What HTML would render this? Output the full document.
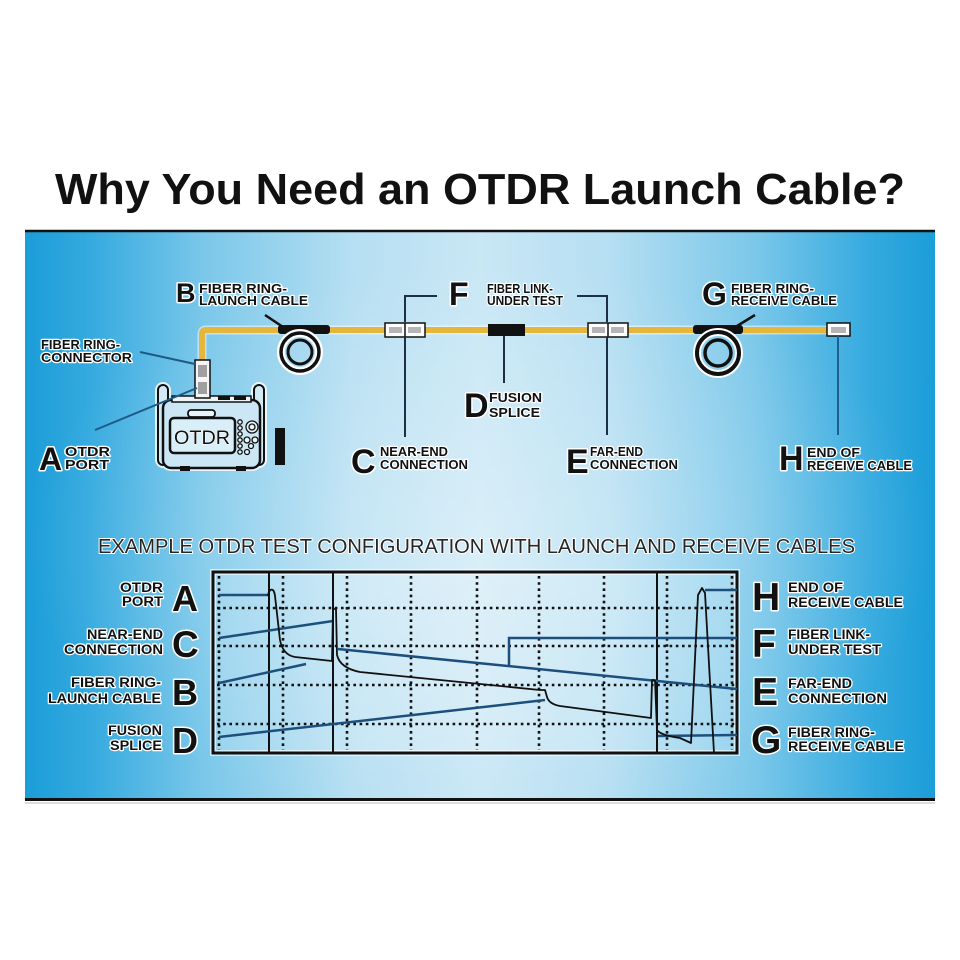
<!DOCTYPE html>
<html><head><meta charset="utf-8"><style>
html,body{margin:0;padding:0;background:#fff;}
svg{display:block;}
.t{font-family:"Liberation Sans",Arial,sans-serif;font-weight:bold;fill:#111;stroke:#fff;stroke-width:2.4;paint-order:stroke;stroke-linejoin:round;}
.bg{font-family:"Liberation Sans",Arial,sans-serif;font-weight:bold;fill:#111;stroke:#fff;stroke-width:3;paint-order:stroke;stroke-linejoin:round;}
</style></head><body>
<svg width="960" height="960" viewBox="0 0 960 960" xmlns="http://www.w3.org/2000/svg">
<defs>
<linearGradient id="hg" x1="0" y1="0" x2="1" y2="0">
<stop offset="0" stop-color="#1b9dd8"/>
<stop offset="0.07" stop-color="#34aadf"/>
<stop offset="0.2" stop-color="#7cc8ea"/>
<stop offset="0.36" stop-color="#b6dff2"/>
<stop offset="0.5" stop-color="#c9e7f5"/>
<stop offset="0.64" stop-color="#b6dff2"/>
<stop offset="0.8" stop-color="#7cc8ea"/>
<stop offset="0.93" stop-color="#34aadf"/>
<stop offset="1" stop-color="#1b9dd8"/>
</linearGradient>
<radialGradient id="rg" cx="0.5" cy="0.55" r="0.5">
<stop offset="0" stop-color="#ffffff" stop-opacity="0.3"/>
<stop offset="0.6" stop-color="#ffffff" stop-opacity="0.12"/>
<stop offset="1" stop-color="#ffffff" stop-opacity="0"/>
</radialGradient>
</defs>

<!-- Title -->
<text x="55" y="204" font-family="Liberation Sans, Arial, sans-serif" font-weight="bold" font-size="44" fill="#111" textLength="850" lengthAdjust="spacingAndGlyphs">Why You Need an OTDR Launch Cable?</text>

<!-- Panel -->
<rect x="25" y="231" width="910" height="568" fill="url(#hg)"/>
<rect x="25" y="231" width="910" height="568" fill="url(#rg)"/>
<line x1="25" y1="231" x2="935" y2="231" stroke="#111" stroke-width="2.5"/>
<line x1="25" y1="799.5" x2="935" y2="799.5" stroke="#111" stroke-width="3"/>
<line x1="25" y1="803" x2="935" y2="803" stroke="#ddd" stroke-width="2"/>

<!-- ===== TOP DIAGRAM ===== -->
<path d="M202,364 L202,334 Q202,330 206,330 L828,330" fill="none" stroke="#fff" stroke-width="9" opacity="0.5"/>
<path d="M202,364 L202,334 Q202,330 206,330 L828,330" fill="none" stroke="#e4b63c" stroke-width="6"/>

<!-- Device -->
<g stroke="#fff" stroke-width="6" fill="none" opacity="0.8">
<rect x="158" y="385" width="10" height="80" rx="5"/>
<rect x="254" y="385" width="10" height="80" rx="5"/>
<rect x="163" y="400" width="97" height="68" rx="8"/>
</g>
<rect x="158" y="385" width="10" height="80" rx="5" fill="#d2eaf6" stroke="#111" stroke-width="2"/>
<rect x="254" y="385" width="10" height="80" rx="5" fill="#d2eaf6" stroke="#111" stroke-width="2"/>
<rect x="163" y="400" width="97" height="68" rx="8" fill="#cbe7f5" stroke="#111" stroke-width="2.5"/>
<rect x="172" y="396" width="79" height="6" fill="#e8f4fa" stroke="#111" stroke-width="1.5"/>
<rect x="218" y="396" width="12" height="4" fill="#111"/>
<rect x="234" y="396" width="12" height="4" fill="#111"/>
<rect x="188" y="410" width="27" height="7" rx="3" fill="#e8f4fa" stroke="#111" stroke-width="1.8"/>
<rect x="170" y="418" width="65" height="35" rx="4" fill="#d8eef8" stroke="#111" stroke-width="2.5"/>
<text x="174" y="444" font-family="Liberation Sans, Arial, sans-serif" font-size="19" fill="#111" stroke="#fff" stroke-width="1" paint-order="stroke" textLength="56" lengthAdjust="spacingAndGlyphs">OTDR</text>
<g fill="#e8f4fa" stroke="#111" stroke-width="1.3">
<circle cx="240" cy="422" r="2.2"/><circle cx="240" cy="428" r="2.2"/><circle cx="240" cy="434" r="2.2"/>
<circle cx="240" cy="440" r="2.2"/><circle cx="240" cy="446" r="2.2"/><circle cx="240" cy="452" r="2.2"/>
<circle cx="252" cy="427" r="6"/><circle cx="252" cy="427" r="3"/>
<circle cx="247" cy="440" r="3"/><circle cx="255" cy="440" r="3"/><circle cx="251" cy="446" r="2.5"/>
<circle cx="247" cy="452" r="2.5"/>
</g>
<rect x="275" y="428" width="10" height="37" fill="#111"/>
<line x1="178" y1="468" x2="250" y2="468" stroke="#111" stroke-width="2"/>
<rect x="180" y="466" width="10" height="5" fill="#111"/>
<rect x="236" y="466" width="10" height="5" fill="#111"/>
<rect x="195" y="360" width="15" height="38" fill="#f5f5f5" stroke="#111" stroke-width="1.5"/>
<rect x="198" y="365" width="9" height="12" fill="#a0a0a0"/>
<rect x="198" y="382" width="9" height="12" fill="#a0a0a0"/>

<!-- Coil B -->
<rect x="278" y="325" width="52" height="9" rx="3" fill="#111"/>
<circle cx="300" cy="352" r="19" fill="none" stroke="#fff" stroke-width="8"/>
<circle cx="300" cy="352" r="19" fill="none" stroke="#111" stroke-width="3.5"/>
<circle cx="300" cy="352" r="12" fill="none" stroke="#111" stroke-width="3"/>
<line x1="265" y1="315" x2="283" y2="327" stroke="#111" stroke-width="2.5"/>

<!-- Coil G -->
<rect x="693" y="325" width="50" height="9" rx="3" fill="#111"/>
<circle cx="718" cy="353" r="21" fill="none" stroke="#fff" stroke-width="8"/>
<circle cx="718" cy="353" r="21" fill="none" stroke="#111" stroke-width="4"/>
<circle cx="718" cy="353" r="13" fill="none" stroke="#111" stroke-width="3.5"/>
<line x1="737" y1="326" x2="755" y2="315" stroke="#111" stroke-width="2.5"/>

<!-- Connectors C, E -->
<g>
<rect x="385" y="323" width="40" height="14" fill="#fff" stroke="#111" stroke-width="1.5"/>
<line x1="405" y1="323" x2="405" y2="337" stroke="#111" stroke-width="1.5"/>
<rect x="389" y="327" width="13" height="6" fill="#b5b5b5"/>
<rect x="408" y="327" width="13" height="6" fill="#b5b5b5"/>
<rect x="588" y="323" width="40" height="14" fill="#fff" stroke="#111" stroke-width="1.5"/>
<line x1="608" y1="323" x2="608" y2="337" stroke="#111" stroke-width="1.5"/>
<rect x="592" y="327" width="13" height="6" fill="#b5b5b5"/>
<rect x="611" y="327" width="13" height="6" fill="#b5b5b5"/>
</g>
<rect x="488" y="324" width="37" height="12" fill="#111"/>
<rect x="827" y="323" width="23" height="13" fill="#fff" stroke="#111" stroke-width="1.5"/>
<rect x="831" y="327" width="15" height="6" fill="#b5b5b5"/>

<!-- leaders top -->
<g stroke="#1c2f45" stroke-width="2" fill="none">
<path d="M437,296 L405,296 L405,322"/>
<path d="M577,296 L607,296 L607,322"/>
<line x1="405" y1="337" x2="405" y2="437"/>
<line x1="607" y1="337" x2="607" y2="435"/>
<line x1="504" y1="336" x2="504" y2="383"/>
</g>
<line x1="838" y1="336" x2="838" y2="435" stroke="#1e5f8f" stroke-width="2"/>
<line x1="140" y1="352" x2="195" y2="364" stroke="#1e5a86" stroke-width="2"/>
<line x1="95" y1="430" x2="197" y2="388" stroke="#1e5a86" stroke-width="2"/>

<!-- top labels -->
<text class="bg" x="176" y="302" font-size="27">B</text>
<text class="t" x="199" y="293" font-size="12.5" textLength="88" lengthAdjust="spacingAndGlyphs">FIBER RING-</text>
<text class="t" x="199" y="305" font-size="12.5" textLength="109" lengthAdjust="spacingAndGlyphs">LAUNCH CABLE</text>

<text class="t" x="41" y="349" font-size="12.5" textLength="79" lengthAdjust="spacingAndGlyphs">FIBER RING-</text>
<text class="t" x="41" y="362" font-size="12.5" textLength="91" lengthAdjust="spacingAndGlyphs">CONNECTOR</text>

<text class="bg" x="39" y="470" font-size="32">A</text>
<text class="t" x="65" y="456" font-size="12.5" textLength="45" lengthAdjust="spacingAndGlyphs">OTDR</text>
<text class="t" x="65" y="469" font-size="12.5" textLength="44" lengthAdjust="spacingAndGlyphs">PORT</text>

<text class="bg" x="449" y="305" font-size="32">F</text>
<text class="t" x="487" y="293" font-size="12.5" textLength="66" lengthAdjust="spacingAndGlyphs">FIBER LINK-</text>
<text class="t" x="487" y="305" font-size="12.5" textLength="76" lengthAdjust="spacingAndGlyphs">UNDER TEST</text>

<text class="bg" x="464" y="417" font-size="34">D</text>
<text class="t" x="489" y="402" font-size="12.5" textLength="53" lengthAdjust="spacingAndGlyphs">FUSION</text>
<text class="t" x="489" y="417" font-size="12.5" textLength="51" lengthAdjust="spacingAndGlyphs">SPLICE</text>

<text class="bg" x="351" y="473" font-size="34">C</text>
<text class="t" x="380" y="456" font-size="12.5" textLength="68" lengthAdjust="spacingAndGlyphs">NEAR-END</text>
<text class="t" x="380" y="469" font-size="12.5" textLength="88" lengthAdjust="spacingAndGlyphs">CONNECTION</text>

<text class="bg" x="566" y="473" font-size="34">E</text>
<text class="t" x="590" y="456" font-size="12.5" textLength="53" lengthAdjust="spacingAndGlyphs">FAR-END</text>
<text class="t" x="590" y="469" font-size="12.5" textLength="88" lengthAdjust="spacingAndGlyphs">CONNECTION</text>

<text class="bg" x="702" y="305" font-size="32">G</text>
<text class="t" x="731" y="293" font-size="12.5" textLength="83" lengthAdjust="spacingAndGlyphs">FIBER RING-</text>
<text class="t" x="731" y="305" font-size="12.5" textLength="106" lengthAdjust="spacingAndGlyphs">RECEIVE CABLE</text>

<text class="bg" x="779" y="470" font-size="34">H</text>
<text class="t" x="807" y="457" font-size="12.5" textLength="53" lengthAdjust="spacingAndGlyphs">END OF</text>
<text class="t" x="807" y="470" font-size="12.5" textLength="105" lengthAdjust="spacingAndGlyphs">RECEIVE CABLE</text>

<!-- ===== CHART ===== -->
<text x="98" y="553" font-family="Liberation Sans, Arial, sans-serif" font-size="20" fill="#262626" stroke="#fff" stroke-width="2" paint-order="stroke" textLength="757" lengthAdjust="spacingAndGlyphs">EXAMPLE OTDR TEST CONFIGURATION WITH LAUNCH AND RECEIVE CABLES</text>

<rect x="213" y="572" width="524" height="181" fill="#ffffff" fill-opacity="0.18" stroke="#fff" stroke-width="6" stroke-opacity="0.6"/>
<rect x="213" y="572" width="524" height="181" fill="none" stroke="#111" stroke-width="3"/>

<g stroke="#111" stroke-width="2.6" stroke-dasharray="2.6 3.6" fill="none">
<line x1="219" y1="576" x2="219" y2="750"/>
<line x1="283" y1="576" x2="283" y2="750"/>
<line x1="347" y1="576" x2="347" y2="750"/>
<line x1="411" y1="576" x2="411" y2="750"/>
<line x1="477" y1="576" x2="477" y2="750"/>
<line x1="539" y1="576" x2="539" y2="750"/>
<line x1="604" y1="576" x2="604" y2="750"/>
<line x1="667" y1="576" x2="667" y2="750"/>
<line x1="732" y1="576" x2="732" y2="750"/>
<line x1="217" y1="608" x2="735" y2="608"/>
<line x1="217" y1="646" x2="735" y2="646"/>
<line x1="217" y1="685" x2="735" y2="685"/>
<line x1="217" y1="724" x2="735" y2="724"/>
</g>
<g stroke="#111" stroke-width="2">
<line x1="269" y1="573" x2="269" y2="752"/>
<line x1="333" y1="573" x2="333" y2="752"/>
<line x1="657" y1="573" x2="657" y2="752"/>
</g>

<g stroke="#1d4f7c" stroke-width="2.5" fill="none">
<line x1="219" y1="595" x2="268" y2="595"/>
<line x1="219" y1="638" x2="333" y2="621"/>
<line x1="219" y1="683" x2="306" y2="664"/>
<line x1="219" y1="737" x2="545" y2="700"/>
<line x1="338" y1="649" x2="737" y2="689"/>
<path d="M509,667 L509,638 L737,638"/>
<line x1="658" y1="736" x2="737" y2="735"/>
<line x1="705" y1="590" x2="737" y2="590"/>
</g>

<path d="M268,596 C269,588 274,587 275,596 L280,640 Q283,655 295,657 L332,661 L333,609 L336,609 L337,655 Q340,668 360,672 L540,690 L545,690 L547,697 Q549,704 560,706 L651,718 L652,680 L655,680 L657,730 Q660,735 680,738 L691,743 L698,595 L702,588 L705,593 L714,753" fill="none" stroke="#111" stroke-width="1.8" stroke-linejoin="round"/>

<text class="t" x="163" y="592" text-anchor="end" font-size="13.5" textLength="43" lengthAdjust="spacingAndGlyphs">OTDR</text>
<text class="t" x="163" y="606" text-anchor="end" font-size="13.5" textLength="41" lengthAdjust="spacingAndGlyphs">PORT</text>
<text class="t" x="163" y="639" text-anchor="end" font-size="13.5" textLength="76" lengthAdjust="spacingAndGlyphs">NEAR-END</text>
<text class="t" x="163" y="654" text-anchor="end" font-size="13.5" textLength="99" lengthAdjust="spacingAndGlyphs">CONNECTION</text>
<text class="t" x="161" y="687" text-anchor="end" font-size="13.5" textLength="90" lengthAdjust="spacingAndGlyphs">FIBER RING-</text>
<text class="t" x="161" y="703" text-anchor="end" font-size="13.5" textLength="113" lengthAdjust="spacingAndGlyphs">LAUNCH CABLE</text>
<text class="t" x="162" y="735" text-anchor="end" font-size="13.5" textLength="54" lengthAdjust="spacingAndGlyphs">FUSION</text>
<text class="t" x="162" y="750" text-anchor="end" font-size="13.5" textLength="52" lengthAdjust="spacingAndGlyphs">SPLICE</text>
<text class="bg" x="172" y="611" font-size="36">A</text>
<text class="bg" x="172" y="657" font-size="37">C</text>
<text class="bg" x="172" y="705" font-size="36">B</text>
<text class="bg" x="172" y="753" font-size="36">D</text>

<text class="bg" x="752" y="610" font-size="39">H</text>
<text class="bg" x="752" y="657" font-size="39">F</text>
<text class="bg" x="752" y="705" font-size="39">E</text>
<text class="bg" x="751" y="753" font-size="39">G</text>
<text class="t" x="788" y="592" font-size="13.5" textLength="55" lengthAdjust="spacingAndGlyphs">END OF</text>
<text class="t" x="788" y="607" font-size="13.5" textLength="115" lengthAdjust="spacingAndGlyphs">RECEIVE CABLE</text>
<text class="t" x="788" y="639" font-size="13.5" textLength="82" lengthAdjust="spacingAndGlyphs">FIBER LINK-</text>
<text class="t" x="788" y="654" font-size="13.5" textLength="93" lengthAdjust="spacingAndGlyphs">UNDER TEST</text>
<text class="t" x="788" y="688" font-size="13.5" textLength="64" lengthAdjust="spacingAndGlyphs">FAR-END</text>
<text class="t" x="788" y="703" font-size="13.5" textLength="99" lengthAdjust="spacingAndGlyphs">CONNECTION</text>
<text class="t" x="788" y="737" font-size="13.5" textLength="87" lengthAdjust="spacingAndGlyphs">FIBER RING-</text>
<text class="t" x="788" y="751" font-size="13.5" textLength="116" lengthAdjust="spacingAndGlyphs">RECEIVE CABLE</text>
</svg>
</body></html>
